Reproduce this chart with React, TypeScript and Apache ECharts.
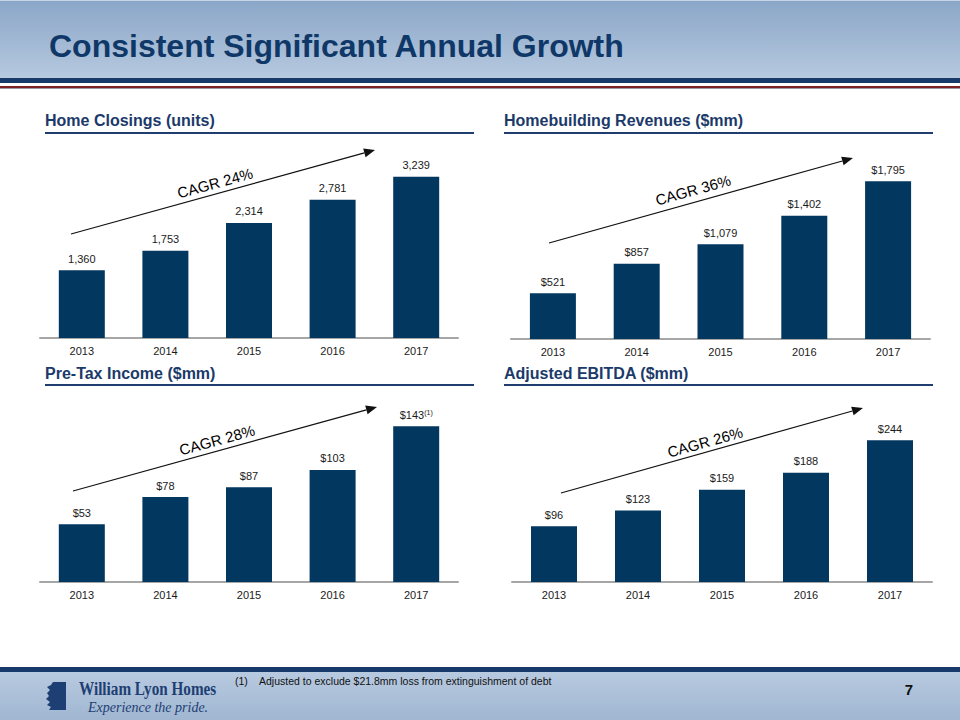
import React, { useEffect, useRef } from "react";
import * as echarts from "echarts";

const years = ["2013", "2014", "2015", "2016", "2017"];
const homeClosings = [1360, 1753, 2314, 2781, 3239];
const revenues = [521, 857, 1079, 1402, 1795];
const pretaxIncome = [53, 78, 87, 103, 143];
const ebitda = [96, 123, 159, 188, 244];
const panelTitles = [
  "Home Closings (units)",
  "Homebuilding Revenues ($mm)",
  "Pre-Tax Income ($mm)",
  "Adjusted EBITDA ($mm)",
];
const cagrLabels = ["CAGR 24%", "CAGR 36%", "CAGR 28%", "CAGR 26%"];
const slideTitle = "Consistent Significant Annual Growth";
const footnote = "Adjusted to exclude $21.8mm loss from extinguishment of debt";
const pageNumber = "7";

const FONT = "'Liberation Sans', Arial, Helvetica, sans-serif";
const SERIF = "'Liberation Serif', 'Times New Roman', serif";
const NAVY = "#0f3868";
const BAR = "#02375f";

const LION =
  "M7 0 L20 0 L20 28 L3 28 L5 25 L1 23 L4 20 L0 17 L3 14 L1 11 L4 8 L1 5 L5 3 Z M9 9 L13 8 L12 10 Z M8 15 L13 17 L9 18 Z M6 22 L10 21 L9 24 Z";
let lionRegistered = false;

function fmtNum(v: number) {
  return v.toLocaleString("en-US");
}

function arrowEls(x1: number, y1: number, x2: number, y2: number) {
  const ang = Math.atan2(y2 - y1, x2 - x1);
  const L = 11;
  const W = 4.5;
  const bx = x2 - L * Math.cos(ang);
  const by = y2 - L * Math.sin(ang);
  const px = -Math.sin(ang);
  const py = Math.cos(ang);
  return [
    {
      type: "line",
      z: 50,
      shape: { x1, y1, x2: bx, y2: by },
      style: { stroke: "#111", lineWidth: 1.2 },
    },
    {
      type: "polygon",
      z: 50,
      shape: {
        points: [
          [x2, y2],
          [bx + W * px, by + W * py],
          [bx - W * px, by - W * py],
        ],
      },
      style: { fill: "#111" },
    },
  ];
}

export default function App() {
  const ref = useRef<HTMLDivElement>(null);

  useEffect(() => {
    if (!ref.current) return;
    if (!lionRegistered) {
      echarts.graphic.registerShape("wlhLion", echarts.graphic.extendPath(LION, {}) as any);
      lionRegistered = true;
    }
    const chart = echarts.init(ref.current, null, { renderer: "svg" });

    const grids = [
      { left: 40, top: 139, width: 418, height: 199 },
      { left: 511, top: 139, width: 419, height: 200 },
      { left: 40, top: 391, width: 418, height: 191 },
      { left: 512, top: 391, width: 420, height: 191 },
    ];
    const maxes = [4000, 2275, 175.5, 329];
    const datasets = [homeClosings, revenues, pretaxIncome, ebitda];

    const labelFmt = [
      (p: any) => fmtNum(p.value),
      (p: any) => "$" + fmtNum(p.value),
      (p: any) => (p.dataIndex === 4 ? "$" + fmtNum(p.value) + "{sup|(1)}" : "$" + fmtNum(p.value)),
      (p: any) => "$" + fmtNum(p.value),
    ];

    const arrows = [
      { x1: 71, y1: 234, x2: 375, y2: 150, tx: 215, ty: 183 },
      { x1: 549, y1: 243, x2: 853, y2: 158, tx: 693, ty: 190 },
      { x1: 73, y1: 491, x2: 377, y2: 407, tx: 217, ty: 440 },
      { x1: 561, y1: 493, x2: 863, y2: 408, tx: 705, ty: 442 },
    ];

    const titlePos = [
      { x: 45, y: 120, lx1: 45, lx2: 474, ly: 133 },
      { x: 504, y: 120, lx1: 504, lx2: 933, ly: 133 },
      { x: 45, y: 373, lx1: 45, lx2: 474, ly: 385 },
      { x: 504, y: 373, lx1: 504, lx2: 933, ly: 385 },
    ];

    const graphics: any[] = [
      {
        type: "rect",
        z: 0,
        shape: { x: 0, y: 0, width: 960, height: 78 },
        style: {
          fill: new echarts.graphic.LinearGradient(0, 0, 0, 1, [
            { offset: 0, color: "#8aa6c7" },
            { offset: 1, color: "#b6c9df" },
          ]),
        },
      },
      { type: "rect", z: 1, shape: { x: 0, y: 0, width: 960, height: 1 }, style: { fill: "#c4d3e6" } },
      { type: "rect", z: 1, shape: { x: 0, y: 78, width: 960, height: 5 }, style: { fill: "#173a6b" } },
      { type: "rect", z: 1, shape: { x: 0, y: 86, width: 960, height: 2 }, style: { fill: "#7d2229" } },
      { type: "rect", z: 1, shape: { x: 0, y: 88, width: 960, height: 1 }, style: { fill: "#9a9aa6" } },
      {
        type: "text",
        z: 5,
        x: 49,
        y: 46,
        style: {
          text: slideTitle,
          font: `bold 32px ${FONT}`,
          fill: NAVY,
          textVerticalAlign: "middle",
          textAlign: "left",
        },
      },
      { type: "rect", z: 1, shape: { x: 0, y: 667, width: 960, height: 5 }, style: { fill: "#173a6b" } },
      {
        type: "rect",
        z: 0,
        shape: { x: 0, y: 672, width: 960, height: 48 },
        style: {
          fill: new echarts.graphic.LinearGradient(0, 0, 0, 1, [
            { offset: 0, color: "#b8cae0" },
            { offset: 1, color: "#a0b6d1" },
          ]),
        },
      },
      {
        type: "wlhLion",
        z: 5,
        x: 46,
        y: 682,
        scaleX: 1,
        scaleY: 1,
        style: { fill: "#1e3f73" },
      },
      {
        type: "text",
        z: 5,
        x: 79,
        y: 689,
        scaleX: 0.8,
        style: {
          text: "William Lyon Homes",
          font: `bold 19px ${SERIF}`,
          fill: "#1e3f73",
          textVerticalAlign: "middle",
          textAlign: "left",
        },
      },
      {
        type: "text",
        z: 5,
        x: 88,
        y: 707,
        style: {
          text: "Experience the pride.",
          font: `italic 14px ${SERIF}`,
          fill: "#1e3f73",
          textVerticalAlign: "middle",
          textAlign: "left",
        },
      },
      {
        type: "text",
        z: 5,
        x: 235,
        y: 681,
        style: { text: "(1)", font: `10.5px ${FONT}`, fill: "#111", textVerticalAlign: "middle" },
      },
      {
        type: "text",
        z: 5,
        x: 259,
        y: 681,
        style: { text: footnote, font: `10.5px ${FONT}`, fill: "#111", textVerticalAlign: "middle" },
      },
      {
        type: "text",
        z: 5,
        x: 909,
        y: 689,
        style: {
          text: pageNumber,
          font: `bold 15px ${FONT}`,
          fill: "#111",
          textVerticalAlign: "middle",
          textAlign: "center",
        },
      },
    ];

    titlePos.forEach((t, i) => {
      graphics.push({
        type: "text",
        z: 5,
        x: t.x,
        y: t.y,
        style: {
          text: panelTitles[i],
          font: `bold 16px ${FONT}`,
          fill: "#1b3a6a",
          textVerticalAlign: "middle",
          textAlign: "left",
        },
      });
      graphics.push({
        type: "rect",
        z: 5,
        shape: { x: t.lx1, y: t.ly - 1, width: t.lx2 - t.lx1, height: 2 },
        style: { fill: "#1f3d6e" },
      });
    });

    arrows.forEach((a, i) => {
      graphics.push(...arrowEls(a.x1, a.y1, a.x2, a.y2));
      const ang = Math.atan2(a.y2 - a.y1, a.x2 - a.x1);
      graphics.push({
        type: "text",
        z: 50,
        x: a.tx,
        y: a.ty,
        rotation: -ang,
        style: {
          text: cagrLabels[i],
          font: `15px ${FONT}`,
          fill: "#000",
          textAlign: "center",
          textVerticalAlign: "middle",
        },
      });
    });

    const option: any = {
      animation: false,
      backgroundColor: "#ffffff",
      grid: grids.map((g) => ({ ...g, containLabel: false })),
      xAxis: grids.map((_, i) => ({
        type: "category",
        gridIndex: i,
        data: years,
        axisTick: { show: false },
        axisLine: { show: true, lineStyle: { color: "#a6a6a6", width: 2 } },
        axisLabel: { color: "#1a1a1a", fontSize: 11, fontFamily: FONT, margin: 7 },
      })),
      yAxis: grids.map((_, i) => ({
        type: "value",
        gridIndex: i,
        min: 0,
        max: maxes[i],
        show: false,
        splitLine: { show: false },
      })),
      series: datasets.map((d, i) => ({
        type: "bar",
        xAxisIndex: i,
        yAxisIndex: i,
        data: d,
        barWidth: 46,
        itemStyle: { color: BAR },
        label: {
          show: true,
          position: "top",
          distance: 6,
          color: "#1a1a1a",
          fontSize: 11,
          fontFamily: FONT,
          formatter: labelFmt[i],
          rich: {
            sup: { fontSize: 7, verticalAlign: "top", fontFamily: FONT, color: "#1a1a1a", padding: [0, 0, 4, 0] },
          },
        },
      })),
      graphic: { elements: graphics },
    };

    chart.setOption(option);
    return () => chart.dispose();
  }, []);

  return (
    <div
      ref={ref}
      style={{ position: "fixed", left: 0, top: 0, width: 960, height: 720, background: "#fff" }}
    />
  );
}
